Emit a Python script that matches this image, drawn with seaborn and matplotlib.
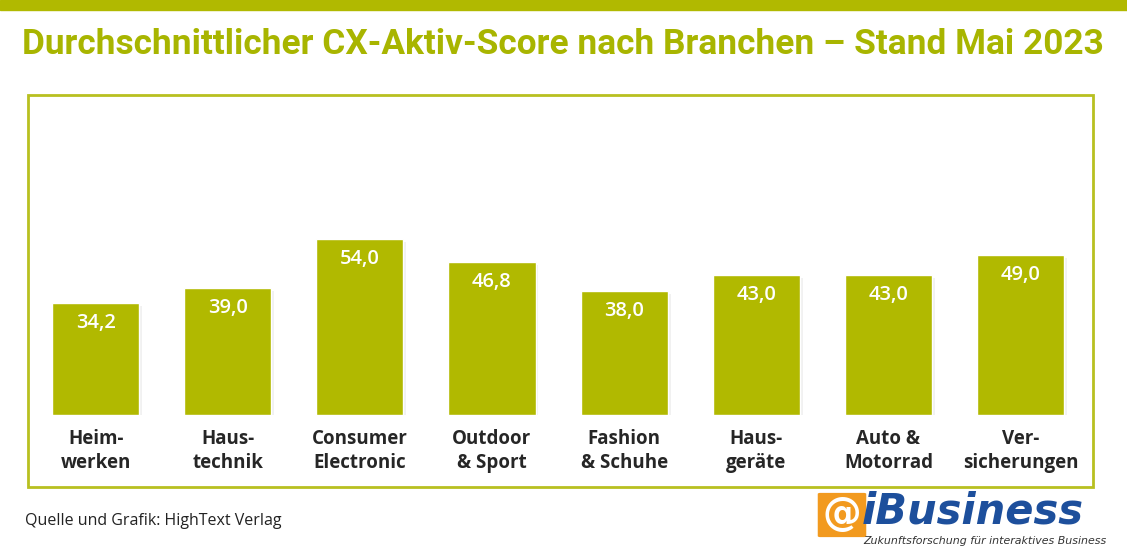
import matplotlib
matplotlib.use("Agg")
import matplotlib.pyplot as plt
import matplotlib.patheffects as pe
from matplotlib.patches import Rectangle, FancyBboxPatch
import seaborn as sns
import pandas as pd

branchen = ["Heim-\nwerken", "Haus-\ntechnik", "Consumer\nElectronic", "Outdoor\n& Sport",
            "Fashion\n& Schuhe", "Haus-\ngeräte", "Auto &\nMotorrad", "Ver-\nsicherungen"]
scores = [34.2, 39.0, 54.0, 46.8, 38.0, 43.0, 43.0, 49.0]

green = "#b1b900"
title_green = "#a8b500"

sns.set_theme(style="white")
plt.rcParams["font.family"] = ["Open Sans", "DejaVu Sans"]

W, H = 1127, 554
fig = plt.figure(figsize=(W / 100, H / 100), dpi=100)

# top band + title
fig.patches.append(Rectangle((0, 1 - 10 / H), 1, 10 / H, transform=fig.transFigure,
                             color=green, zorder=0))
fig.text(22 / W, 1 - 45 / H, "Durchschnittlicher CX-Aktiv-Score nach Branchen – Stand Mai 2023",
         fontsize=25.4, fontweight="bold", color=title_green, va="center", ha="left",
         family=["Roboto", "DejaVu Sans"])

# frame
fig.patches.append(Rectangle((28 / W, 1 - 487 / H), (1093 - 28) / W, (487 - 95) / H,
                             transform=fig.transFigure, fill=False, edgecolor="#b8c020",
                             linewidth=2, zorder=1))

df = pd.DataFrame({"branche": branchen, "score": scores})
ax = fig.add_axes([29.5 / W, 1 - 415 / H, (1086.6 - 29.5) / W, (415 - 100) / H])
sns.barplot(data=df, x="branche", y="score", color=green, width=0.66, saturation=1, ax=ax)
for bar in ax.patches:
    bar.set_path_effects([pe.SimplePatchShadow(offset=(2, -2), alpha=0.08, shadow_rgbFace="#555555"),
                          pe.Normal()])
ax.set_xlim(-0.5, 7.5)
ax.set_ylim(0, 96.6)
ax.set_xlabel("")
ax.set_ylabel("")
ax.set_yticks([])
sns.despine(ax=ax, left=True, bottom=True)
ax.tick_params(axis="x", length=0, pad=10)
for lab in ax.get_xticklabels():
    lab.set_fontsize(13.5)
    lab.set_fontweight("bold")
    lab.set_linespacing(1.3)
    lab.set_verticalalignment("top")

for i, v in enumerate(scores):
    ax.annotate(f"{v:.1f}".replace(".", ","), (i, v), xytext=(0, -7), textcoords="offset points",
                ha="center", va="top", color="white", fontsize=14.5, fontweight="semibold")

# footer
fig.text(25 / W, 1 - 521 / H, "Quelle und Grafik: HighText Verlag", fontsize=11.5,
         va="center", ha="left", color="#222222")

# logo
fig.patches.append(FancyBboxPatch((820 / W, 1 - 536 / H), 44 / W, 42 / H,
                                  boxstyle="round,pad=0.002", transform=fig.transFigure,
                                  facecolor="#f29a1f", edgecolor="none", zorder=2))
fig.text(842 / W, 1 - 514 / H, "@", fontsize=28, fontweight="bold", color="white",
         ha="center", va="center", family="DejaVu Sans", zorder=3)
fig.text(862 / W, 1 - 511 / H, "iBusiness", fontsize=30, fontweight="bold", style="italic",
         color="#1d4f9c", ha="left", va="center", family="DejaVu Sans", zorder=3)
fig.text(863 / W, 1 - 541 / H, "Zukunftsforschung für interaktives Business", fontsize=7.9,
         style="italic", color="#333333", ha="left", va="center", family="DejaVu Sans", zorder=3)

fig.savefig("out.png", dpi=100)
